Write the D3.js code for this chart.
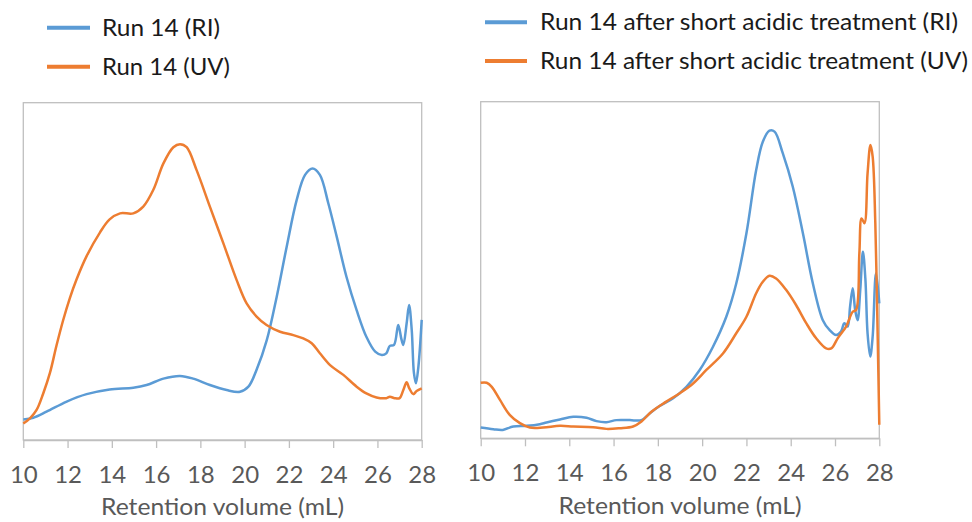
<!DOCTYPE html>
<html>
<head>
<meta charset="utf-8">
<script src="https://cdn.jsdelivr.net/npm/d3@7"></script>
<style>
  html, body { margin: 0; padding: 0; background: #ffffff; }
  svg { display: block; }
  text { font-family: Lato, "Open Sans", "Liberation Sans", sans-serif; }
</style>
</head>
<body>
<svg id="chart" width="972" height="522"></svg>
<script>
// Retention volume ticks (mL)
const xTicks = [10, 12, 14, 16, 18, 20, 22, 24, 26, 28];
const xTitle = "Retention volume (mL)";

// Run 14 — refractive index detector, [mL, relative signal]
const run14RI = [
  [10, 6.1], [10.45, 6.6], [11.05, 8.4], [11.96, 11.4], [12.86, 13.6], [13.9, 15.0],
  [14.97, 15.5], [15.57, 16.3], [16.33, 18.2], [17.08, 19.0], [17.68, 18.2], [18.43, 16.3],
  [19.19, 14.8], [19.79, 14.3], [20.17, 15.8], [20.54, 20.8], [21.0, 29.6], [21.45, 42.5],
  [21.9, 57.3], [22.35, 71.1], [22.73, 78.6], [23.07, 80.5], [23.4, 78.6], [23.78, 70.2],
  [24.16, 60.3], [24.6, 48.4], [25.06, 38.5], [25.5, 30.6], [25.9, 26.2], [26.2, 25.2],
  [26.4, 25.7], [26.56, 27.9], [26.75, 28.2], [26.94, 34.1], [27.08, 30.0], [27.17, 28.2],
  [27.32, 34.6], [27.43, 40.0], [27.55, 32.6], [27.65, 19.8], [27.74, 16.8], [27.85, 21.7],
  [28.0, 35.6]
];

// Run 14 — UV detector
const run14UV = [
  [10, 4.9], [10.3, 6.4], [10.6, 8.9], [10.9, 13.8], [11.2, 19.8], [11.5, 28.0],
  [11.8, 35.5], [12.1, 42.0], [12.4, 47.5], [12.86, 54.5], [13.46, 61.5], [13.9, 65.4],
  [14.37, 67.2], [14.97, 67.2], [15.42, 69.2], [15.87, 74.1], [16.33, 82.0], [16.78, 86.8],
  [17.08, 87.7], [17.38, 86.8], [17.83, 80.0], [18.43, 69.2], [19.04, 58.3], [19.64, 47.4],
  [20.09, 40.5], [20.54, 36.6], [20.99, 34.1], [21.6, 32.1], [22.2, 31.1], [22.65, 30.1],
  [23.03, 28.7], [23.4, 25.7], [23.86, 22.2], [24.46, 19.3], [25.06, 15.8], [25.5, 13.8],
  [25.96, 12.6], [26.4, 12.4], [26.56, 12.8], [26.78, 12.4], [27.0, 12.4], [27.17, 14.8],
  [27.32, 17.1], [27.44, 15.3], [27.62, 13.6], [27.77, 14.5], [28.0, 15.3]
];

// Run 14 after short acidic treatment — refractive index detector
const acidRI = [
  [10, 3.2], [10.57, 2.7], [11.0, 2.5], [11.47, 3.5], [12.07, 3.7], [12.67, 4.2],
  [12.97, 4.7], [13.58, 5.6], [14.18, 6.4], [14.78, 6.1], [15.23, 5.1], [15.68, 4.8],
  [16.13, 5.4], [16.73, 5.4], [17.26, 5.4], [17.63, 7.4], [18.08, 9.6], [18.69, 11.9],
  [19.29, 15.3], [19.89, 20.3], [20.49, 27.2], [21.09, 36.1], [21.54, 46.0], [22.0, 60.9],
  [22.44, 79.7], [22.74, 88.1], [23.04, 91.4], [23.27, 91.1], [23.64, 84.7], [24.09, 74.8],
  [24.55, 60.9], [25.0, 46.0], [25.45, 35.1], [25.75, 32.2], [26.05, 30.7], [26.27, 31.7],
  [26.42, 34.2], [26.57, 33.2], [26.68, 39.1], [26.8, 44.6], [26.91, 38.1], [27.02, 35.1],
  [27.14, 44.1], [27.26, 55.4], [27.37, 47.5], [27.47, 31.2], [27.59, 24.3], [27.7, 30.2],
  [27.85, 49.0], [28.0, 40.1]
];

// Run 14 after short acidic treatment — UV detector
const acidUV = [
  [10, 16.5], [10.27, 16.5], [10.5, 15.3], [10.87, 11.4], [11.32, 6.9], [11.77, 4.5],
  [12.22, 3.2], [12.82, 3.2], [13.58, 3.7], [14.18, 3.5], [15.08, 3.3], [15.68, 2.8],
  [16.28, 3.0], [16.88, 3.5], [17.26, 5.0], [17.71, 7.9], [18.38, 10.9], [18.99, 13.4],
  [19.59, 16.3], [20.19, 20.3], [20.94, 25.2], [21.54, 31.2], [22.0, 36.1], [22.44, 43.1],
  [22.74, 46.5], [23.04, 48.3], [23.34, 47.5], [23.79, 44.1], [24.24, 39.6], [24.7, 34.2],
  [25.15, 29.7], [25.6, 26.7], [25.83, 26.7], [26.12, 29.7], [26.5, 33.2], [26.8, 37.6],
  [26.95, 38.1], [27.1, 55.0], [27.2, 65.3], [27.33, 63.9], [27.47, 78.7], [27.6, 87.1],
  [27.7, 83.7], [27.82, 63.9], [27.93, 29.2], [28.0, 4.0]
];

const blue = "#5b9bd5";
const orange = "#ed7d31";
const grey = "#bfbfbf";
const labelColor = "#595959";

const svg = d3.select("#chart");

const panels = [
  {
    box: { left: 23.3, right: 421.7, top: 102.7, bottom: 440 },
    series: [ { data: run14RI, color: blue }, { data: run14UV, color: orange } ],
    legend: { lineX: [47, 90], textX: 102, rows: [
      { y: 27.7, text: "Run 14 (RI)", color: blue, len: 118 },
      { y: 66.7, text: "Run 14 (UV)", color: orange, len: 128 } ] },
    tickBase: 483, titleBase: 515
  },
  {
    box: { left: 480.7, right: 879.3, top: 101.7, bottom: 438.3 },
    series: [ { data: acidRI, color: blue }, { data: acidUV, color: orange } ],
    legend: { lineX: [485, 527], textX: 540, rows: [
      { y: 22.3, text: "Run 14 after short acidic treatment (RI)", color: blue, len: 418 },
      { y: 61, text: "Run 14 after short acidic treatment (UV)", color: orange, len: 428 } ] },
    tickBase: 481.5, titleBase: 514
  }
];

panels.forEach(p => {
  const b = p.box;
  const x = d3.scaleLinear().domain([10, 28]).range([b.left, b.right]);
  const y = d3.scaleLinear().domain([0, 100]).range([b.bottom, b.top]);

  // plot-area frame
  svg.append("rect")
    .attr("x", b.left).attr("y", b.top)
    .attr("width", b.right - b.left).attr("height", b.bottom - b.top)
    .attr("fill", "none").attr("stroke", grey).attr("stroke-width", 1.3);

  // x axis with outward ticks
  const axis = svg.append("g")
    .attr("transform", `translate(0,${b.bottom})`)
    .call(d3.axisBottom(x).tickValues(xTicks).tickSize(8).tickSizeOuter(0).tickFormat(d3.format("d")));
  axis.select(".domain").attr("stroke", grey).attr("stroke-width", 1.3);
  axis.selectAll(".tick line").attr("stroke", grey).attr("stroke-width", 1.3);
  axis.selectAll(".tick text")
    .attr("y", p.tickBase - b.bottom).attr("dy", null)
    .attr("fill", labelColor)
    .style("font-size", "24px");

  svg.append("text")
    .attr("x", (b.left + b.right) / 2).attr("y", p.titleBase)
    .attr("text-anchor", "middle")
    .attr("fill", labelColor)
    .attr("textLength", 243).attr("lengthAdjust", "spacingAndGlyphs")
    .style("font-size", "24px")
    .text(xTitle);

  // traces
  const line = d3.line()
    .x(d => x(d[0])).y(d => y(d[1]))
    .curve(d3.curveCatmullRom.alpha(0.5));
  p.series.forEach(s => {
    svg.append("path")
      .datum(s.data)
      .attr("d", line)
      .attr("fill", "none")
      .attr("stroke", s.color)
      .attr("stroke-width", 2.5)
      .attr("stroke-linejoin", "round");
  });

  // legend
  p.legend.rows.forEach(r => {
    svg.append("line")
      .attr("x1", p.legend.lineX[0]).attr("x2", p.legend.lineX[1])
      .attr("y1", r.y).attr("y2", r.y)
      .attr("stroke", r.color).attr("stroke-width", 4);
    svg.append("text")
      .attr("x", p.legend.textX).attr("y", r.y)
      .attr("dy", "0.35em")
      .attr("fill", "#1a1a1a")
      .attr("textLength", r.len).attr("lengthAdjust", "spacingAndGlyphs")
      .style("font-size", "23px")
      .text(r.text);
  });
});
</script>
</body>
</html>
